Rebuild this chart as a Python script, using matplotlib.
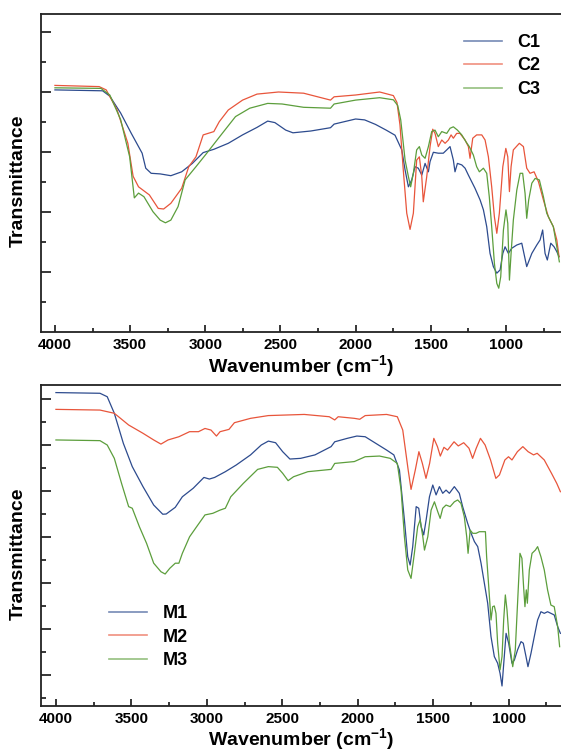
import matplotlib
matplotlib.use('Agg')
import matplotlib.pyplot as plt
from matplotlib.ticker import FixedLocator

plt.rcParams['font.family'] = ['Liberation Sans', 'DejaVu Sans']
plt.rcParams['font.weight'] = 'bold'
plt.rcParams['mathtext.fontset'] = 'custom'
plt.rcParams['mathtext.rm'] = 'Liberation Sans:bold'
plt.rcParams['mathtext.it'] = 'Liberation Sans:bold'
plt.rcParams['mathtext.bf'] = 'Liberation Sans:bold'
plt.rcParams['mathtext.default'] = 'rm'

# ---------------- top panel data ----------------
c1_w = [4000, 3683, 3635, 3563, 3492, 3420, 3396, 3360, 3300, 3229, 3157, 3086, 3014, 2943, 2847, 2752,
        2656, 2585, 2537, 2465, 2417, 2298, 2167, 2143, 2000, 1940, 1868, 1797, 1738, 1693, 1671, 1649,
        1627, 1605, 1583, 1560, 1538, 1516, 1505, 1483, 1450, 1417, 1394, 1372, 1350, 1339, 1323, 1294,
        1272, 1250, 1228, 1206, 1172, 1150, 1128, 1106, 1084, 1061, 1039, 1021, 1006, 984, 962, 928,
        895, 862, 828, 795, 773, 756, 740, 725, 702, 680, 662, 647]
c1_t = [80.7, 80.4, 78.6, 73, 66.2, 59.6, 54.6, 52.9, 52.7, 52.1, 53.4, 56.2, 59.8, 60.9, 62.9, 65.7,
        68.2, 70.3, 69.8, 67.3, 66.4, 67, 68.1, 69.3, 71, 70.7, 69.2, 67.3, 65.6, 60.7, 54, 48.4,
        50.7, 55.1, 54.6, 52.3, 56.2, 53.4, 56.8, 59.9, 59.6, 59.6, 60.7, 61.8, 57.3, 53.4, 56.2, 55.7,
        54.6, 52.3, 50.1, 47.9, 44, 40.7, 35.1, 26.2, 21.8, 19.6, 20.7, 26.2, 28.4, 26.2, 27.9, 29,
        29.6, 21.8, 26.2, 29, 30.7, 34, 26.2, 24, 29.6, 28.4, 26.8, 25.1]

c2_w = [4000, 3706, 3659, 3587, 3515, 3480, 3444, 3372, 3313, 3277, 3229, 3157, 3110, 3062, 3014, 2943,
        2907, 2847, 2752, 2656, 2513, 2346, 2167, 2143, 2000, 1840, 1749, 1725, 1705, 1683, 1660, 1638,
        1616, 1594, 1576, 1560, 1550, 1527, 1505, 1487, 1472, 1450, 1427, 1405, 1383, 1365, 1350, 1328,
        1306, 1272, 1250, 1239, 1221, 1195, 1161, 1139, 1117, 1095, 1077, 1061, 1044, 1021, 1001, 988,
        977, 966, 951, 911, 884, 862, 840, 813, 784, 751, 718, 685, 662, 647]
c2_t = [82.2, 81.8, 80.7, 74.1, 62.9, 51.9, 48.4, 45.7, 41.2, 41, 42.9, 47.9, 55.1, 58.4, 65.7, 66.8,
        70.1, 74, 77.3, 79.3, 80, 79.6, 77.3, 78.4, 79, 80, 78.8, 76.5, 69, 54, 39.6, 34.2,
        39.6, 57.3, 58.4, 51.8, 43.4, 51.8, 61.8, 67.6, 66.2, 61.8, 64, 62.9, 64, 65.7, 64.6, 66.2,
        66.2, 64, 61.8, 57.9, 64.6, 65.7, 65.7, 64, 58.4, 48.4, 38.4, 32.9, 39.6, 55.1, 61.2, 58.4,
        46.8, 55.1, 60.7, 62.9, 61.8, 54.6, 52.9, 53.4, 50.1, 44, 38.4, 35.1, 30.7, 25.1]

c3_w = [4000, 3694, 3635, 3563, 3503, 3472, 3444, 3408, 3348, 3300, 3265, 3229, 3181, 3134, 3062, 2990,
        2895, 2799, 2704, 2585, 2489, 2346, 2167, 2143, 2000, 1840, 1749, 1720, 1700, 1671, 1649, 1634,
        1616, 1594, 1576, 1560, 1538, 1516, 1494, 1472, 1450, 1427, 1394, 1372, 1350, 1323, 1294, 1266,
        1244, 1217, 1195, 1177, 1150, 1128, 1111, 1095, 1077, 1061, 1048, 1035, 1017, 1000, 988, 977,
        966, 951, 928, 906, 889, 873, 862, 849, 828, 806, 778, 751, 729, 707, 685, 662, 645]
c3_t = [81.4, 81.2, 79, 70.8, 58.4, 44.7, 46.3, 45.1, 40.1, 37.3, 36.4, 37.3, 41.8, 50.7, 55.1, 59.6,
        65.7, 71.8, 74.6, 76.2, 76, 74.9, 74.6, 76, 77.3, 78.1, 77.4, 75.5, 70.7, 57.3, 51.8, 48.4,
        52.9, 60.7, 61.8, 59, 57.9, 61.8, 66.8, 67.3, 65.1, 66.8, 66.2, 67.9, 68.4, 67.3, 65.7, 63.4,
        61.8, 59, 55.1, 53.4, 54.6, 52.9, 45.1, 35.1, 22.9, 16.2, 14.6, 18.4, 34, 40.7, 36.2, 17.3,
        26.2, 37.3, 47.3, 52.9, 52.9, 46.2, 37.9, 44, 49.6, 51.2, 50.7, 45.1, 39.6, 37.3, 35.1, 28.4, 23.4]

# ---------------- bottom panel data ----------------
m1_w = [4000, 3708, 3660, 3613, 3553, 3494, 3423, 3352, 3292, 3269, 3209, 3162, 3090, 3019, 2983, 2948,
        2877, 2805, 2710, 2639, 2592, 2544, 2497, 2449, 2378, 2283, 2176, 2152, 2069, 2005, 1950, 1879,
        1808, 1760, 1723, 1690, 1668, 1652, 1635, 1612, 1595, 1579, 1562, 1546, 1524, 1502, 1480, 1458,
        1436, 1414, 1392, 1359, 1326, 1304, 1271, 1248, 1226, 1204, 1182, 1160, 1138, 1116, 1094, 1072,
        1056, 1043, 1028, 1016, 999, 977, 961, 940, 917, 902, 884, 871, 851, 829, 807, 785,
        763, 741, 719, 697, 674, 656]
m1_t = [132.8, 132.5, 131, 123.8, 110.7, 100.6, 91.9, 83.9, 79.9, 80, 82.9, 87.5, 91.2, 95.9, 95.2, 95.9,
        98.4, 101.3, 105.7, 110, 111.7, 111, 107.1, 103.9, 104.2, 105.7, 109.3, 111.4, 112.9, 113.9, 113.6, 110.7,
        107.8, 105.7, 99.1, 77.4, 61.4, 57.8, 65.8, 83.2, 82.5, 74.5, 70.9, 77.4, 87.5, 92.6, 88.3, 91.9,
        89, 90.4, 89, 91.9, 89, 83.2, 76, 71.6, 68, 65.8, 58.6, 49.9, 41.2, 26.7, 18, 15.1,
        10.7, 5.2, 18, 28.1, 23.8, 15.1, 16.5, 20.9, 24.5, 23.8, 18, 13.6, 19.4, 26.7, 33.9, 37.5,
        36.8, 37.5, 36.8, 36.1, 31, 28.1]

m2_w = [4000, 3708, 3613, 3518, 3423, 3352, 3304, 3257, 3185, 3114, 3055, 3012, 2972, 2936, 2912, 2853,
        2817, 2710, 2592, 2354, 2188, 2152, 2129, 2022, 1986, 1950, 1808, 1737, 1701, 1665, 1646, 1618,
        1594, 1571, 1547, 1523, 1495, 1471, 1452, 1428, 1404, 1361, 1333, 1297, 1262, 1238, 1214, 1186,
        1155, 1119, 1084, 1060, 1024, 1000, 977, 941, 905, 870, 834, 810, 763, 715, 680, 656]
m2_t = [125.5, 125.2, 123.8, 118.7, 115.1, 112.2, 110.4, 112.2, 113.6, 115.8, 115.8, 117.2, 116.5, 113.9, 115.8, 116.8,
        119.7, 121.6, 122.8, 123.3, 122.3, 120.9, 122.3, 121.6, 121.2, 122.8, 123.3, 122.3, 116.5, 99.1, 90.7, 99.1,
        107.1, 102, 95.5, 102, 112.9, 109.3, 105.2, 109, 107.8, 111.4, 109.6, 111, 108.6, 104.2, 108.6, 112.9,
        110, 103.5, 95.5, 97, 103.5, 104.9, 103.5, 107.1, 109.3, 107.1, 105.7, 106.4, 103.5, 97.7, 93.3, 89.7]

m3_w = [4000, 3708, 3660, 3613, 3565, 3518, 3494, 3447, 3399, 3352, 3304, 3276, 3245, 3209, 3185, 3162,
        3114, 3067, 3012, 2960, 2912, 2877, 2841, 2758, 2663, 2592, 2532, 2497, 2461, 2425, 2330, 2176,
        2152, 2022, 1950, 1855, 1784, 1737, 1712, 1690, 1668, 1646, 1624, 1602, 1586, 1568, 1557, 1535,
        1513, 1491, 1469, 1453, 1436, 1414, 1387, 1359, 1337, 1315, 1293, 1277, 1268, 1254, 1237, 1215,
        1193, 1171, 1153, 1145, 1131, 1116, 1105, 1094, 1083, 1072, 1056, 1043, 1032, 1021, 1010, 994,
        972, 955, 940, 924, 911, 900, 891, 882, 875, 862, 844, 822, 807, 785, 763, 741,
        719, 697, 674, 661]
m3_t = [112.2, 111.9, 110, 104.2, 93.3, 83.2, 82.5, 74.5, 67.2, 58.6, 54.9, 53.9, 56.4, 58.6, 58.6, 62.9,
        70.1, 74.5, 79.6, 80.3, 81.7, 82.5, 87.5, 93.3, 99.4, 100.6, 100.3, 97.7, 94.5, 96.2, 98.4, 99.4,
        102, 102.8, 104.9, 105.2, 104.2, 102, 90.4, 70.1, 55.7, 52, 62.9, 74.5, 77.4, 70.1, 64.3, 70.1,
        81.7, 85.3, 81, 78.1, 82.5, 83.9, 83.2, 85.3, 86.1, 84.6, 78.8, 70.1, 62.9, 73, 71.6, 71.6,
        72.3, 72.3, 72.3, 61.4, 48.4, 33.9, 39.7, 40, 36.8, 23.8, 12.2, 18, 33.9, 44.8, 38.3, 23.8,
        13.6, 20.9, 41.2, 62.9, 60.7, 48.4, 39.7, 47, 41.2, 55.7, 62.9, 64.3, 65.8, 61.4, 55.7, 47,
        40.4, 39.7, 31, 22.3]

top_labels = ['C1', 'C2', 'C3']
bottom_labels = ['M1', 'M2', 'M3']
x_major = [4000, 3500, 3000, 2500, 2000, 1500, 1000]
x_minor = [3750, 3250, 2750, 2250, 1750, 1250, 750]

colors = ['#2d4b8e', '#e8553b', '#5c9e3c']

W, H = 561, 753
fig = plt.figure(figsize=(W / 100, H / 100), dpi=100)
ax1 = fig.add_axes([40.5 / W, 1 - 332 / H, 1 - 40.5 / W, 318 / H])
ax2 = fig.add_axes([40.7 / W, 1 - 706 / H, 1 - 40.7 / W, 321 / H])

for (w, t), c, lab in zip([(c1_w, c1_t), (c2_w, c2_t), (c3_w, c3_t)], colors, top_labels):
    ax1.plot(w, t, color=c, lw=0.9, label=lab)
for (w, t), c, lab in zip([(m1_w, m1_t), (m2_w, m2_t), (m3_w, m3_t)], colors, bottom_labels):
    ax2.plot(w, t, color=c, lw=0.9, label=lab)

ax1.set_xlim(4096, 634)
ax1.set_ylim(0, 106)
ax2.set_xlim(4101, 652)
ax2.set_ylim(-3.5, 136.1)

ax1.yaxis.set_major_locator(FixedLocator([20, 40, 60, 80, 100]))
ax1.yaxis.set_minor_locator(FixedLocator([10, 30, 50, 70, 90]))
ax2.yaxis.set_major_locator(FixedLocator([10, 30, 50, 70, 90, 110, 130]))
ax2.yaxis.set_minor_locator(FixedLocator([0, 20, 40, 60, 80, 100, 120]))

for ax, lab_y, leg_anchor, labels in [(ax1, -0.066, (464 / W, 1 - 34 / H), top_labels),
                                      (ax2, -0.064, (109 / W, 1 - 605 / H), bottom_labels)]:
    ax.xaxis.set_major_locator(FixedLocator(x_major))
    ax.xaxis.set_minor_locator(FixedLocator(x_minor))
    ax.tick_params(axis='x', which='major', direction='in', length=5, width=1.1, pad=4,
                   labelsize=11, top=False)
    ax.tick_params(axis='x', which='minor', direction='in', length=2.8, width=1.1, top=False)
    ax.tick_params(axis='y', which='major', direction='in', length=7, width=1.1, labelleft=False,
                   right=False)
    ax.tick_params(axis='y', which='minor', direction='in', length=3.6, width=1.1, right=False)
    for s in ['left', 'bottom', 'top']:
        ax.spines[s].set_linewidth(1.3)
        ax.spines[s].set_color('#222222')
    ax.spines['right'].set_visible(False)
    ax.set_xlabel('Wavenumber (cm$^{-1}$)', fontsize=14, fontweight='bold')
    ax.xaxis.set_label_coords(0.5, lab_y)
    ax.set_ylabel('Transmittance', fontsize=14, fontweight='bold')
    ax.yaxis.set_label_coords(-0.026, 0.475)
    leg = ax.legend(loc='upper left', bbox_to_anchor=leg_anchor, bbox_transform=fig.transFigure,
                    frameon=False, borderpad=0, borderaxespad=0, handlelength=2.1,
                    handletextpad=0.85, labelspacing=0.36,
                    prop={'size': 13, 'weight': 'bold'})
    for ln in leg.get_lines():
        ln.set_alpha(0.65)
        ln.set_linewidth(1.2)

fig.savefig('out.png', dpi=100)
